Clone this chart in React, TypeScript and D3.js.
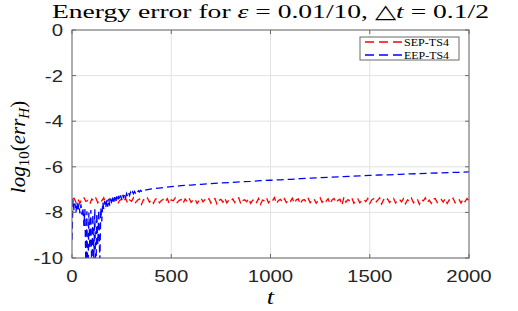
import React from 'react';
import * as d3 from 'd3';

const xTicks = [0, 500, 1000, 1500, 2000];
const yTicks = [0, -2, -4, -6, -8, -10];
const seriesNames = ['SEP-TS4', 'EEP-TS4'];
const seriesColors = ['#ff0000', '#0000ff'];

// SEP-TS4 sampled every 10 time units from t = 0 to 2000
const sepTimes = d3.range(0, 2001, 10);
const sepValues = [
  -7.45, -7.38, -7.55, -7.42, -7.60, -7.40, -7.35, -7.52, -7.47, -7.62,
  -7.41, -7.50, -7.37, -7.58, -7.44, -7.49, -7.36, -7.61, -7.46, -7.40,
  -7.56, -7.43, -7.39, -7.63, -7.48, -7.42, -7.54, -7.38, -7.59, -7.45,
  -7.51, -7.36, -7.57, -7.47, -7.41, -7.64, -7.44, -7.50, -7.37, -7.55,
  -7.46, -7.60, -7.42, -7.39, -7.58, -7.48, -7.43, -7.53, -7.40, -7.62,
  -7.45, -7.49, -7.36, -7.57, -7.47, -7.44, -7.60, -7.41, -7.52, -7.38,
  -7.56, -7.46, -7.42, -7.61, -7.48, -7.37, -7.54, -7.44, -7.50, -7.40,
  -7.59, -7.45, -7.39, -7.63, -7.47, -7.43, -7.55, -7.38, -7.58, -7.46,
  -7.51, -7.41, -7.57, -7.44, -7.36, -7.62, -7.48, -7.45, -7.53, -7.40,
  -7.60, -7.47, -7.42, -7.56, -7.39, -7.64, -7.46, -7.50, -7.37, -7.58,
  -7.44, -7.49, -7.35, -7.61, -7.48, -7.43, -7.55, -7.40, -7.57, -7.46,
  -7.52, -7.38, -7.59, -7.45, -7.41, -7.63, -7.47, -7.44, -7.54, -7.39,
  -7.58, -7.46, -7.42, -7.60, -7.48, -7.36, -7.56, -7.43, -7.51, -7.40,
  -7.62, -7.45, -7.39, -7.57, -7.47, -7.42, -7.68, -7.33, -7.55, -7.44,
  -7.50, -7.37, -7.60, -7.46, -7.41, -7.58, -7.48, -7.43, -7.53, -7.39,
  -7.61, -7.45, -7.40, -7.56, -7.47, -7.36, -7.63, -7.44, -7.52, -7.41,
  -7.57, -7.46, -7.38, -7.59, -7.48, -7.43, -7.54, -7.40, -7.62, -7.45,
  -7.50, -7.37, -7.58, -7.47, -7.42, -7.64, -7.44, -7.49, -7.36, -7.56,
  -7.46, -7.60, -7.41, -7.39, -7.57, -7.48, -7.43, -7.55, -7.40, -7.61,
  -7.45, -7.51, -7.38, -7.58, -7.47, -7.44, -7.59, -7.42, -7.53, -7.39,
  -7.48,
];

// EEP-TS4: every 5 units up to t = 360, then every 50 units from 400
const eepTimes = [...d3.range(0, 361, 5), ...d3.range(400, 2001, 50)];
const eepValues = [
  -9.2, -7.45, -7.9, -7.6, -8.0, -7.55, -7.95, -7.6, -8.05, -7.65,
  -8.1, -7.8, -8.6, -7.85, -10.6, -7.95, -11.4, -8.0, -9.6, -7.9,
  -11.0, -8.1, -10.2, -7.85, -11.3, -8.05, -9.4, -7.9, -10.3, -7.8,
  -8.4, -7.55, -7.85, -7.5, -7.8, -7.45, -7.75, -7.42, -7.7, -7.4,
  -7.65, -7.35, -7.6, -7.33, -7.55, -7.3, -7.5, -7.27, -7.46, -7.25,
  -7.42, -7.22, -7.38, -7.2, -7.34, -7.17, -7.3, -7.15, -7.26, -7.12,
  -7.22, -7.1, -7.18, -7.08, -7.15, -7.06, -7.12, -7.05, -7.1, -7.03,
  -7.07, -7.01, -7.04,
  -6.97, -6.92, -6.87, -6.83, -6.80, -6.77, -6.74, -6.71, -6.69,
  -6.66, -6.64, -6.61, -6.59, -6.57, -6.55, -6.52, -6.50, -6.48, -6.46,
  -6.44, -6.42, -6.40, -6.38, -6.36, -6.35, -6.33, -6.31, -6.30, -6.28,
  -6.27, -6.25, -6.24, -6.22,
];

const W = 518, H = 311;
const L = 72, R = 469, T = 30, B = 258;
const SX = 1.2; // horizontal stretch of the original rendering

export default function App() {
  const x = d3.scaleLinear().domain([0, 2000]).range([L, R]);
  const y = d3.scaleLinear().domain([-10, 0]).range([B, T]);
  const line = d3.line<[number, number]>().x(d => x(d[0])).y(d => y(d[1]));
  const sepPath = line(sepTimes.map((t, i) => [t, sepValues[i]]) as [number, number][]) || '';
  const eepPath = line(eepTimes.map((t, i) => [t, eepValues[i]]) as [number, number][]) || '';
  const axisColor = '#6a6a6a';
  const gridColor = '#e2e2e2';
  const tickLen = 4;
  const dash = '7,4';
  const sans = '"Liberation Sans", Arial, sans-serif';
  const serif = '"Liberation Serif", "DejaVu Serif", serif';

  return (
    <svg width={W} height={H} style={{ position: 'absolute', left: 0, top: 0, background: '#fff' }}>
      <defs>
        <clipPath id="plotClip">
          <rect x={L} y={T} width={R - L} height={B - T} />
        </clipPath>
      </defs>
      <rect x={0} y={0} width={W} height={H} fill="#fff" />
      {xTicks.map(t => (
        <line key={'gx' + t} x1={x(t)} x2={x(t)} y1={T} y2={B} stroke={gridColor} strokeWidth={1} />
      ))}
      {yTicks.map(t => (
        <line key={'gy' + t} x1={L} x2={R} y1={y(t)} y2={y(t)} stroke={gridColor} strokeWidth={1} />
      ))}
      <g clipPath="url(#plotClip)">
        <path d={sepPath} fill="none" stroke={seriesColors[0]} strokeWidth={1.3} strokeDasharray={dash} />
        <path d={eepPath} fill="none" stroke={seriesColors[1]} strokeWidth={1.3} strokeDasharray={dash} />
      </g>
      <rect x={L} y={T} width={R - L} height={B - T} fill="none" stroke={axisColor} strokeWidth={1} />
      {xTicks.map(t => (
        <g key={'tx' + t}>
          <line x1={x(t)} x2={x(t)} y1={B} y2={B - tickLen} stroke={axisColor} />
          <line x1={x(t)} x2={x(t)} y1={T} y2={T + tickLen} stroke={axisColor} />
        </g>
      ))}
      {yTicks.map(t => (
        <g key={'ty' + t}>
          <line x1={L} x2={L + tickLen} y1={y(t)} y2={y(t)} stroke={axisColor} />
          <line x1={R} x2={R - tickLen} y1={y(t)} y2={y(t)} stroke={axisColor} />
        </g>
      ))}
      {xTicks.map(t => (
        <text key={'lx' + t} transform={`translate(${x(t)},282) scale(${SX},1)`} textAnchor="middle"
          fontFamily={sans} fontSize={17} fill="#262626">{t}</text>
      ))}
      {yTicks.map(t => (
        <text key={'ly' + t} transform={`translate(63,${y(t) + 6}) scale(${SX},1)`} textAnchor="end"
          fontFamily={sans} fontSize={17} fill="#262626">{t}</text>
      ))}
      <text x={52} y={18} fontFamily={serif} fontSize={19} fill="#000" textLength={437} lengthAdjust="spacingAndGlyphs">
        <tspan>Energy error for </tspan>
        <tspan fontStyle="italic">ε</tspan>
        <tspan> = 0.01/10, △</tspan>
        <tspan fontStyle="italic">t</tspan>
        <tspan> = 0.1/2</tspan>
      </text>
      <text transform={`translate(${(L + R) / 2},304) scale(${SX},1)`} textAnchor="middle" fontFamily={serif}
        fontStyle="italic" fontSize={22} fill="#000">t</text>
      <text transform={`translate(25,${(T + B) / 2 + 3}) rotate(-90)`} textAnchor="middle" fontFamily={serif}
        fontSize={21} fill="#000">
        <tspan fontStyle="italic">log</tspan>
        <tspan fontSize={15} dy={4}>10</tspan>
        <tspan dy={-4}>(</tspan>
        <tspan fontStyle="italic">err</tspan>
        <tspan fontStyle="italic" fontSize={15} dy={4}>H</tspan>
        <tspan dy={-4}>)</tspan>
      </text>
      <rect x={360} y={37} width={99} height={23} fill="#fff" stroke={axisColor} strokeWidth={1} />
      {seriesNames.map((n, i) => (
        <g key={n}>
          <line x1={365} x2={402} y1={42 + i * 13} y2={42 + i * 13} stroke={seriesColors[i]} strokeWidth={1.3}
            strokeDasharray="9,5" />
          <text x={404} y={45.5 + i * 13} fontFamily={serif} fontSize={10} fill="#000"
            textLength={45} lengthAdjust="spacingAndGlyphs">{n}</text>
        </g>
      ))}
    </svg>
  );
}
